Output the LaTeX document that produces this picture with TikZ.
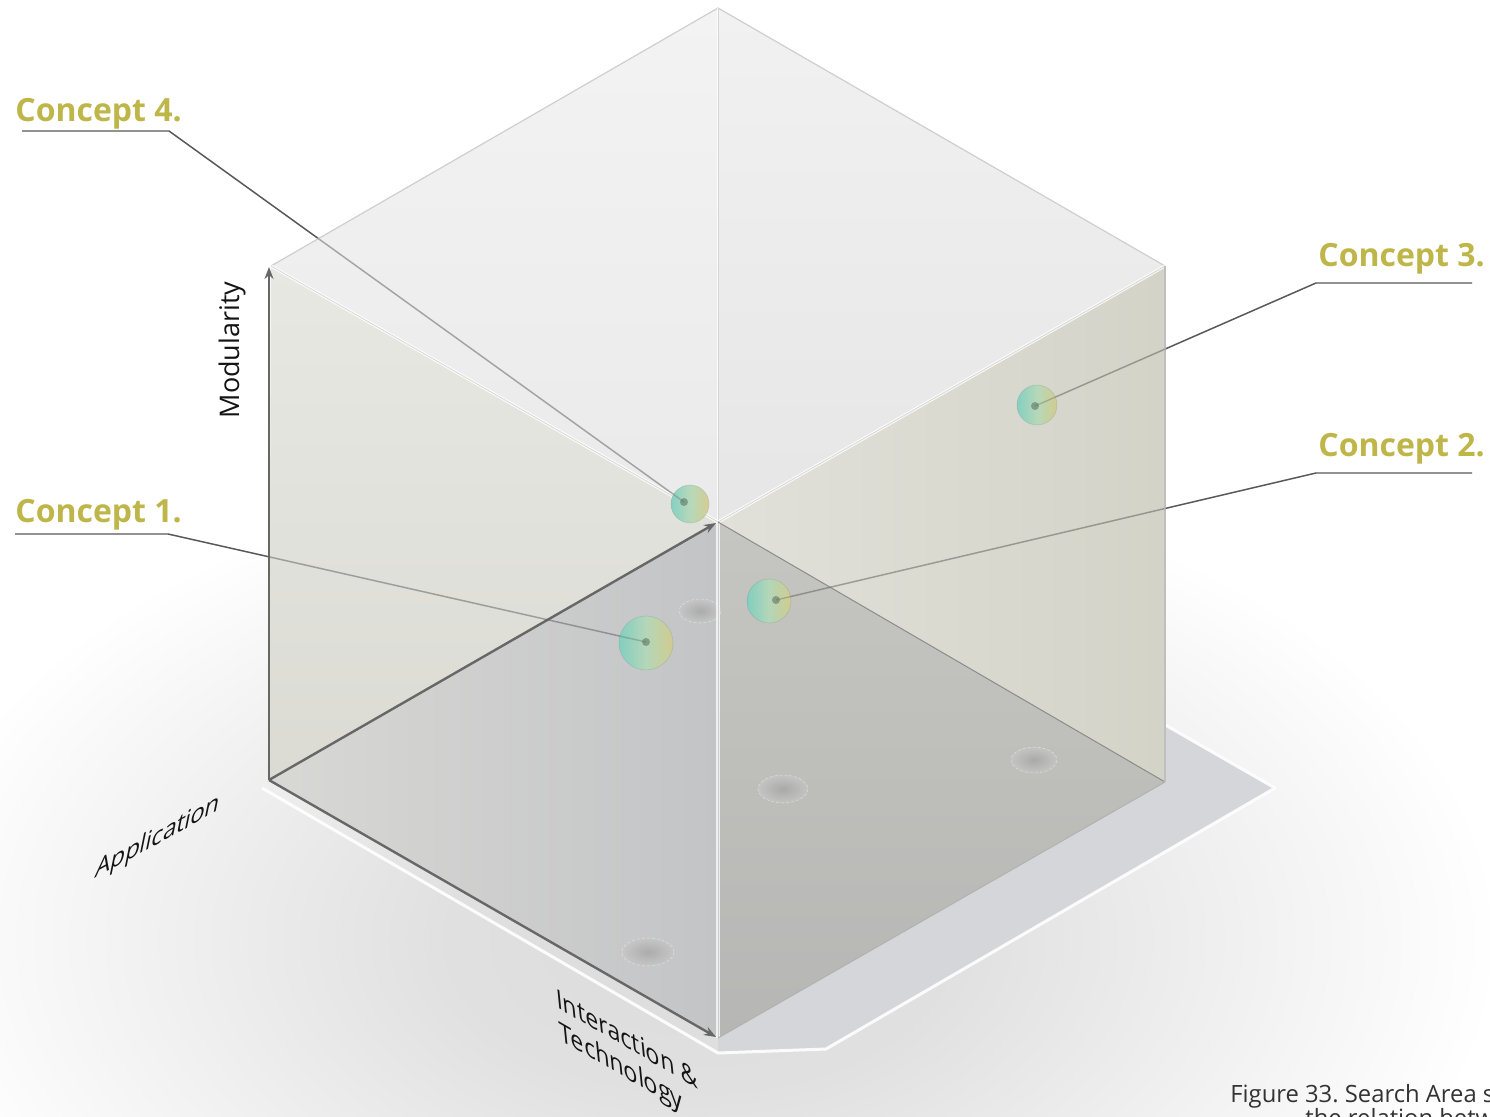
\documentclass[tikz,border=0pt]{standalone}
\usepackage{fontspec}
\setmainfont{Open Sans}
\usetikzlibrary{arrows.meta}
\frenchspacing
\definecolor{conceptc}{HTML}{BFB64A}
\definecolor{axisc}{HTML}{676767}
\definecolor{leaderc}{HTML}{595959}
\definecolor{sphL}{HTML}{7FCFC0}
\definecolor{sphM}{HTML}{B3D8B8}
\definecolor{sphR}{HTML}{D2CC8C}
\definecolor{shadowc}{HTML}{D5D6D9}
\pgfdeclareradialshading{vign}{\pgfpoint{0bp}{0bp}}{color(0bp)=(black!14); color(8bp)=(black!12); color(25bp)=(white); color(50bp)=(white)}
\tikzset{
  conceptlbl/.style={font=\fontsize{16}{19}\selectfont\bfseries, text=conceptc, inner sep=0pt},
  axislbl/.style={font=\fontsize{13.5}{16.5}\selectfont, text=black!92, inner sep=0pt},
  caption/.style={font=\fontsize{11.9}{14}\selectfont, text=black!80, inner sep=0pt},
  leader/.style={draw=leaderc, line width=0.7pt},
  axisarrow/.style={draw=axisc, line width=1.2pt, -{Stealth[length=6pt,width=4.5pt]}},
  sphere/.style={circle, inner sep=0pt, left color=sphL, right color=sphR, middle color=sphM, draw=sphL!60!black, draw opacity=0.2, line width=0.3pt, fill opacity=0.93},
  dotc/.style={circle, fill=black!50!sphM, fill opacity=0.55, minimum size=4pt, inner sep=0pt},
  spot/.style={inner color=black!36, outer color=black!22, opacity=0.75},
  spotrim/.style={draw=white, draw opacity=0.4, line width=0.3pt, dash pattern=on 1.5pt off 1pt},
}
\newcommand\cubeFaces{%
  \shade[left color={rgb,255:red,216;green,216;blue,213}, right color={rgb,255:red,195;green,196;blue,198}] (BL) -- (C) -- (B) -- cycle;
  \shade[top color={rgb,255:red,197;green,197;blue,193}, bottom color={rgb,255:red,182;green,182;blue,180}] (C) -- (BR) -- (B) -- cycle;
  \shade[top color={rgb,255:red,232;green,232;blue,227}, bottom color={rgb,255:red,219;green,219;blue,212}] (UL) -- (C) -- (BL) -- cycle;
  \shade[left color={rgb,255:red,225;green,225;blue,218}, right color={rgb,255:red,211;green,211;blue,200}] (C) -- (UR) -- (BR) -- cycle;
  \shade[top color={rgb,255:red,243;green,243;blue,243}, bottom color={rgb,255:red,234;green,234;blue,234}] (UL) -- (T) -- (C) -- cycle;
  \shade[top color={rgb,255:red,241;green,241;blue,241}, bottom color={rgb,255:red,230;green,230;blue,230}] (T) -- (UR) -- (C) -- cycle;
}
\begin{document}
\begin{tikzpicture}[x=0.5pt,y=-0.5pt]
\useasboundingbox (0,0) rectangle (1490,1117);
\fill[white] (0,0) rectangle (1490,1117);
\shade[shading=vign] (700,940) ellipse (800 and 480);

% cube corners
\coordinate (T) at (718,8);
\coordinate (UL) at (271,266);
\coordinate (UR) at (1165,266);
\coordinate (C) at (718,522);
\coordinate (BL) at (269,780);
\coordinate (BR) at (1165,782);
\coordinate (B) at (718,1038);
% axis tips
\coordinate (tipM) at (269,267);
\coordinate (tipA) at (716,523);
\coordinate (tipI) at (716,1037);

% concept points (dots) and leader bends
\coordinate (d4) at (684,502);
\coordinate (d3) at (1035,406);
\coordinate (d2) at (776,600);
\coordinate (d1) at (646,642);
\coordinate (u4a) at (22,131);  \coordinate (u4b) at (169,131);
\coordinate (u1a) at (15,534);  \coordinate (u1b) at (168,534);
\coordinate (u3a) at (1472,283); \coordinate (u3b) at (1316,283);
\coordinate (u2a) at (1472,473); \coordinate (u2b) at (1316,473);

% floor shadow plane
\fill[shadowc] (718,527) -- (826,530) -- (1275,788) -- (826,1049) -- (718,1053) -- cycle;
\draw[white, line width=1.5pt, draw opacity=0.9, line join=round] (262,788) -- (718,1053) -- (826,1049) -- (1275,788) -- (826,530);

% cube (opaque base)
\cubeFaces

% leader lines (seen faded through the cube)
\draw[leader] (u4a) -- (u4b) -- (d4);
\draw[leader] (u1a) -- (u1b) -- (d1);
\draw[leader] (u3a) -- (u3b) -- (d3);
\draw[leader] (u2a) -- (u2b) -- (d2);

\begin{scope}[opacity=0.72]
\cubeFaces
\end{scope}

% spots on the floor
\shade[spot] (700,611) ellipse (21 and 12);
\draw[spotrim] (700,611) ellipse (21 and 12);
\shade[spot] (783,789) ellipse (25 and 14);
\draw[spotrim] (783,789) ellipse (25 and 14);
\shade[spot] (1034,760) ellipse (23 and 13);
\draw[spotrim] (1034,760) ellipse (23 and 13);
\shade[spot] (648,952) ellipse (26 and 14);
\draw[spotrim] (648,952) ellipse (26 and 14);

% cube edges
\draw[black!19, line width=0.6pt] (UL) -- (T) -- (UR);
\draw[white, line width=1.2pt, draw opacity=0.8] (T) -- (C);
\draw[black!16, line width=0.4pt] (T) -- (C);
\draw[white, line width=1.6pt, draw opacity=0.75] (UL) -- (C) -- (UR);
\draw[black!18, line width=0.3pt] (UL) -- (C) -- (UR);
\draw[white, line width=1.6pt, draw opacity=0.75] (C) -- (B);
\draw[black!20, line width=0.3pt] (C) -- (B);
\draw[black!45, line width=0.5pt] (C) -- (BR);
\draw[black!25, line width=0.6pt] (UR) -- (BR);
\draw[black!30, line width=0.5pt] (BR) -- (B);

% axes
\draw[axisarrow] (BL) -- (tipM);
\draw[axisarrow] (BL) -- (tipA);
\draw[axisarrow] (BL) -- (tipI);

% spheres
\node[sphere, minimum size=19pt] (s4) at (690,504) {};
\node[sphere, minimum size=20pt] (s3) at (1037,405) {};
\node[sphere, minimum size=22pt] (s2) at (769,601) {};
\node[sphere, minimum size=27pt] (s1) at (646,643) {};

% leader lines seen across the spheres
\begin{scope}[opacity=0.3]
\draw[leader] (u4b) -- (d4);
\draw[leader] (u1b) -- (d1);
\draw[leader] (u3b) -- (d3);
\draw[leader] (u2b) -- (d2);
\end{scope}

\node[dotc] (p4) at (d4) {};
\node[dotc] (p3) at (d3) {};
\node[dotc] (p2) at (d2) {};
\node[dotc] (p1) at (d1) {};

% concept labels
\node[conceptlbl, anchor=base west] (l4) at (15,122) {Concept 4.};
\node[conceptlbl, anchor=base west] (l1) at (15,523) {Concept 1.};
\node[conceptlbl, anchor=base west] (l3) at (1318,267) {Concept 3.};
\node[conceptlbl, anchor=base west] (l2) at (1318,457) {Concept 2.};

% axis labels
\node[axislbl, rotate=90] (am) at (232,350) {Modularity};
\node[axislbl, cm={0.877,0.48,0.2,0.98,(0,0)}] (aa) at (158,838) {Application};
\node[axislbl, align=left, anchor=north west, cm={0.866,-0.5,-0.1,0.995,(0,0)}] (ai) at (555,987) {Interaction \&\\Technology};

% caption
\node[caption, anchor=base west] (cap1) at (1230,1102) {Figure 33. Search Area showing};
\node[caption, anchor=base west] (cap2) at (1305,1126) {the relation between};
\end{tikzpicture}
\end{document}
